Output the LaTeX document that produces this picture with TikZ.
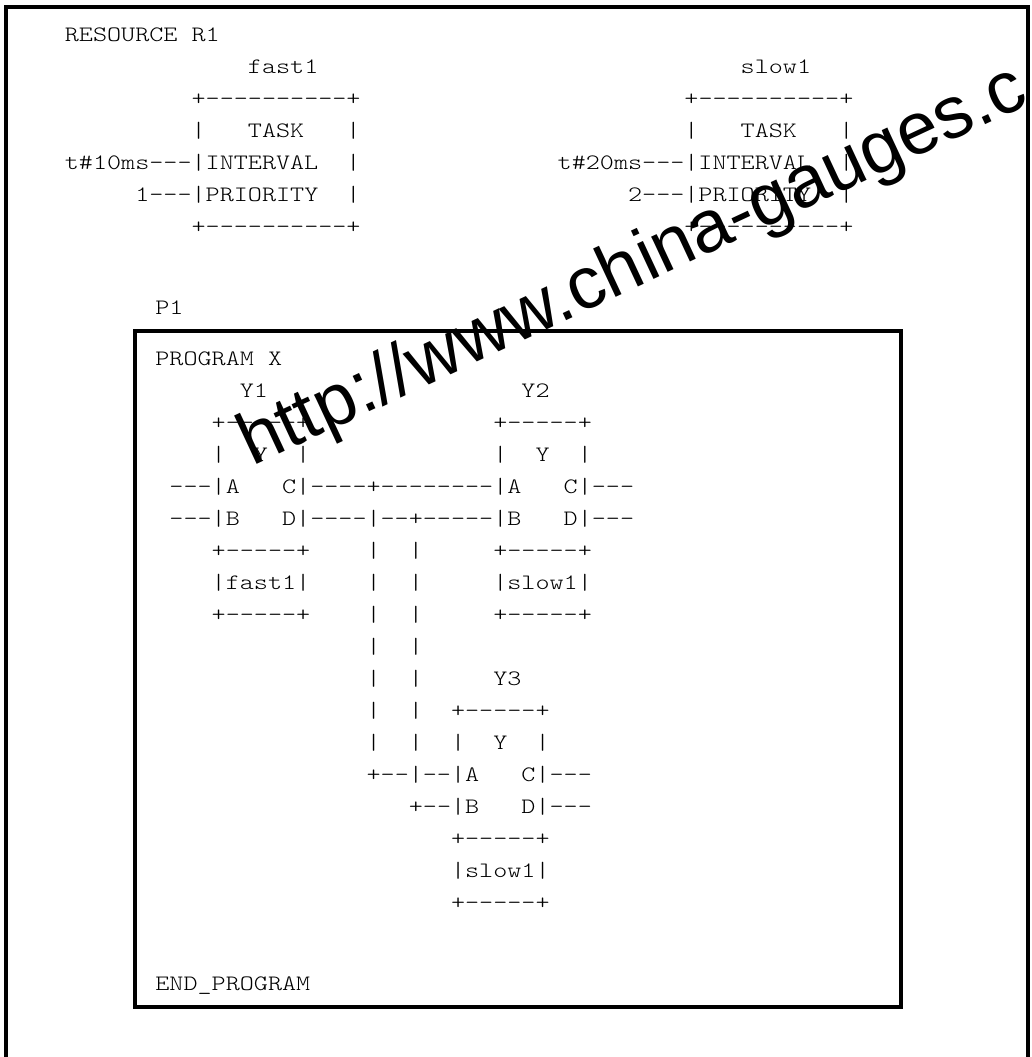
\documentclass[tikz,border=0pt]{standalone}
\usepackage{fontspec}
\usepackage{tikz}
\newfontfamily\asciifont[FakeStretch=1.219,WordSpace={1,0,0}]{lmmonolt10-regular.otf}
\newfontfamily\markfont{Liberation Sans}

\begin{document}
\begin{tikzpicture}[x=0.5pt,y=-0.5pt,
    ascii/.style={font=\asciifont\fontsize{11}{11}\selectfont,anchor=base west,inner sep=0pt},
    frame/.style={line width=2pt},
    watermark/.style={font=\markfont\fontsize{36.8}{36.8}\selectfont,anchor=base west,inner sep=0pt,rotate=25}]
    \useasboundingbox (0,0) rectangle (1032,1057);

    % watermark across the page, cut at the right frame
    \begin{scope}
        \clip (8,9) rectangle (1027,1057);
        \node[watermark] (wm) at (252,467) {http://www.china-gauges.c};
    \end{scope}

    % outer frame, open at the bottom
    \draw[frame] (6,1057) -- (6,7) -- (1028,7) -- (1028,1057);

    % resource R1 and its two tasks (one character = one unit)
    \begin{scope}[shift={(64.5,41)},x=7.04pt,y=-16pt]
        \node[ascii] (res) at (0,0) {RESOURCE~R1};
        \foreach \c/\tname/\tms/\tprio in {0/fast1/10/1,35/slow1/20/2}{
            \node[ascii] (\tname-name) at (\c+13,1) {\tname};
            \node[ascii] (\tname-top) at (\c+9,2) {+----------+};
            \node[ascii] (\tname-task) at (\c+9,3) {|~~~TASK~~~|};
            \node[ascii] (\tname-int) at (\c,4) {t\#\tms{}ms---|INTERVAL~~|};
            \node[ascii] (\tname-prio) at (\c+5,5) {\tprio---|PRIORITY~~|};
            \node[ascii] (\tname-bot) at (\c+9,6) {+----------+};
        }
    \end{scope}

    % program instance P1
    \node[ascii] (p1) at (155,314) {P1};
    \draw[frame] (135,330.5) rectangle (901,1007);

    \begin{scope}[shift={(155,365)},x=7.04pt,y=-16pt]
        \node[ascii] (prog) at (0,0) {PROGRAM~X};
        \foreach \c/\n in {4/1,24/2}{
            \node[ascii] (y\n-name) at (\c+2,1) {Y\n};
            \node[ascii] (y\n-top) at (\c,2) {+-----+};
            \node[ascii] (y\n-type) at (\c,3) {|~~Y~~|};
        }
        \node[ascii] (lineA) at (1,4) {---|A~~~C|----+--------|A~~~C|---};
        \node[ascii] (lineB) at (1,5) {---|B~~~D|----|--+-----|B~~~D|---};
        \node[ascii] (row6) at (4,6) {+-----+~~~~|~~|~~~~~+-----+};
        \node[ascii] (row7) at (4,7) {|fast1|~~~~|~~|~~~~~|slow1|};
        \node[ascii] (row8) at (4,8) {+-----+~~~~|~~|~~~~~+-----+};
        \node[ascii] (row9) at (15,9) {|~~|};
        \node[ascii] (row10) at (15,10) {|~~|~~~~~Y3};
        \node[ascii] (row11) at (15,11) {|~~|~~+-----+};
        \node[ascii] (row12) at (15,12) {|~~|~~|~~Y~~|};
        \node[ascii] (row13) at (15,13) {+--|--|A~~~C|---};
        \node[ascii] (row14) at (18,14) {+--|B~~~D|---};
        \node[ascii] (row15) at (21,15) {+-----+};
        \node[ascii] (row16) at (21,16) {|slow1|};
        \node[ascii] (row17) at (21,17) {+-----+};
        \node[ascii] (endprog) at (0,19.55) {END\_PROGRAM};
    \end{scope}
\end{tikzpicture}
\end{document}
